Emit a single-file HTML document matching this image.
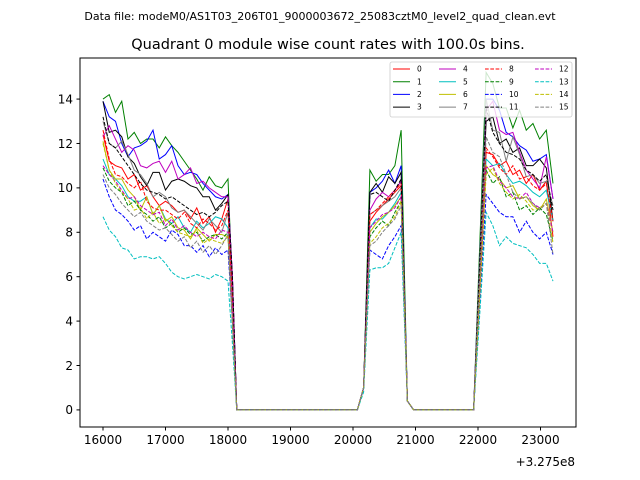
<!DOCTYPE html>
<html><head><meta charset="utf-8"><style>
body{margin:0;background:#fff;}
svg{display:block;font-family:"DejaVu Sans","Liberation Sans",sans-serif;}
</style></head><body>
<svg id="chart" width="640" height="480" viewBox="0 0 640 480">
<rect x="0" y="0" width="640" height="480" fill="#fff"/>
<text x="320" y="20" font-size="11" text-anchor="middle">Data file: modeM0/AS1T03_206T01_9000003672_25083cztM0_level2_quad_clean.evt</text>
<text x="328" y="49" font-size="14.5" text-anchor="middle">Quadrant 0 module wise count rates with 100.0s bins.</text>
<g id="series"></g>
<rect x="80" y="58" width="496" height="369" fill="none" stroke="#000" stroke-width="1"/>
<g id="axes"></g>
<text x="575" y="466" font-size="12" text-anchor="end">+3.275e8</text>
<g id="legend"></g>
</svg>
<script>
const times=[16000,16100,16200,16300,16400,16500,16600,16700,16800,16900,17000,17100,17200,17300,17400,17500,17600,17700,17800,17900,18000,18070,18140,
20070,20170,20270,20370,20470,20570,20670,20770,20870,20970,
21930,22030,22130,22237,22344,22451,22558,22665,22772,22879,22986,23093,23200];
const xTicks=[16000,17000,18000,19000,20000,21000,22000,23000];
const yTicks=[0,2,4,6,8,10,12,14];
const labels=["0","1","2","3","4","5","6","7","8","9","10","11","12","13","14","15"];
const colors=["#ff0000","#008000","#0000ff","#000000","#bf00bf","#00bfbf","#bfbf00","#808080","#ff0000","#008000","#0000ff","#000000","#bf00bf","#00bfbf","#bfbf00","#808080"];
const s0=[12.4,11.2,11.0,10.9,10.4,10.6,9.9,10.1,9.6,9.2,9.4,9.2,8.9,9.0,8.6,9.1,8.4,8.7,8.0,8.6,9.5,5.5,0, 0,1.0,8.5,8.9,9.2,9.5,9.8,10.1,0.4,0, 0,5.8,11.6,11.5,11.0,11.2,10.6,10.8,10.2,10.6,9.9,10.3,7.8];
const s1=[14.0,14.2,13.4,13.9,12.2,12.5,12.0,12.2,12.2,11.8,12.3,11.9,11.6,11.2,10.8,10.4,9.9,10.5,10.1,10.0,10.4,5.5,0, 0,1.0,10.8,10.3,10.6,10.6,11.0,12.6,0.4,0, 0,7.6,15.2,14.7,13.6,13.6,12.7,13.5,12.6,12.9,12.2,12.6,10.2];
const s2=[13.9,13.2,13.0,12.0,11.4,11.8,11.9,12.1,12.6,11.3,11.5,11.9,11.0,10.6,10.7,10.6,10.2,9.9,9.6,9.5,9.7,6.0,0, 0,1.0,9.8,10.0,10.3,10.8,10.2,11.0,0.4,0, 0,7.0,14.0,14.0,13.5,12.5,12.3,11.9,11.7,11.2,11.3,11.5,9.5];
const s3=[13.9,12.5,12.6,12.3,11.4,11.1,10.5,10.1,10.7,10.7,9.9,10.3,10.4,10.3,10.1,10.0,9.6,9.6,9.0,9.3,9.7,6.0,0, 0,1.0,9.8,10.2,9.8,10.5,10.2,10.7,0.4,0, 0,6.5,13.0,13.2,12.0,12.2,11.6,11.8,11.0,11.0,11.3,10.9,8.5];
const s4=[12.3,12.8,12.2,11.6,11.9,11.7,11.0,10.9,11.1,11.2,10.7,11.2,10.4,10.6,10.9,10.2,10.3,10.0,9.8,9.6,9.6,6.0,0, 0,1.0,9.0,9.5,9.8,9.6,9.9,10.3,0.4,0, 0,6.7,13.5,13.9,12.6,12.4,12.5,11.6,10.8,10.4,10.0,11.4,9.5];
const s5=[11.3,10.6,10.4,10.1,9.6,9.4,9.4,9.6,8.8,9.2,8.6,8.4,8.7,8.2,8.0,8.5,8.2,8.4,8.7,8.6,8.2,4.5,0, 0,1.0,8.2,8.6,8.6,8.9,9.3,9.8,0.4,0, 0,5.6,11.3,11.0,11.1,10.6,10.2,10.3,10.1,9.8,9.6,9.9,8.5];
const s6=[12.1,10.8,10.4,10.4,9.9,9.6,9.0,9.6,8.8,9.2,8.5,8.7,8.2,8.1,7.7,8.2,7.9,7.6,7.9,7.9,7.8,4.0,0, 0,1.0,8.0,8.4,8.7,8.9,9.2,9.6,0.4,0, 0,5.5,11.0,10.6,10.4,10.0,10.1,9.5,9.6,9.2,9.0,9.5,8.0];
const s7=[13.0,12.0,11.8,12.1,11.5,10.8,10.6,10.2,9.6,9.8,9.6,9.1,8.9,9.0,8.7,8.4,8.1,8.6,8.3,8.0,8.9,5.0,0, 0,1.0,8.8,9.0,9.2,9.4,9.6,10.0,0.4,0, 0,7.0,14.0,12.6,12.5,11.2,12.3,11.5,10.5,10.6,10.2,10.3,9.2];
const s8=[12.6,11.3,10.6,10.5,10.2,10.0,10.3,9.4,9.1,9.0,9.0,8.8,8.6,8.9,8.4,8.2,8.6,8.4,8.1,8.3,9.0,5.0,0, 0,1.0,8.8,9.0,9.3,9.6,9.9,10.2,0.4,0, 0,5.9,11.8,11.4,10.9,10.6,11.0,10.4,10.5,10.1,9.9,10.2,8.5];
const s9=[10.9,10.3,10.0,9.8,9.2,9.4,9.0,8.8,8.5,8.7,8.2,8.4,8.0,8.2,7.9,8.0,7.6,7.8,7.9,7.7,8.0,4.0,0, 0,1.0,7.8,8.2,8.5,8.3,8.9,9.4,0.4,0, 0,5.4,10.8,10.2,10.5,9.6,9.8,9.0,9.2,8.8,9.1,8.8,7.6];
const s10=[10.4,9.6,9.0,8.8,8.5,8.1,8.3,7.7,8.0,7.8,7.6,8.1,7.9,7.4,7.4,7.1,7.4,6.9,7.3,7.0,7.2,4.0,0, 0,1.0,7.2,7.0,6.8,7.4,7.8,8.3,0.4,0, 0,4.8,9.7,9.3,8.9,8.7,8.7,8.0,8.5,8.0,7.7,8.0,7.0];
const s11=[13.2,12.0,11.8,11.4,11.0,10.6,10.2,9.9,9.8,9.7,9.5,9.6,9.4,9.2,9.0,8.8,8.9,8.7,8.9,9.2,9.4,6.0,0, 0,1.0,9.7,9.8,9.6,9.4,9.9,10.4,0.4,0, 0,6.8,13.6,12.5,12.0,11.6,11.5,11.3,10.8,10.6,10.3,10.6,9.0];
const s12=[11.0,10.6,10.3,9.9,9.5,9.6,9.2,9.0,8.8,8.9,8.3,8.6,8.1,8.3,8.0,7.8,8.0,7.8,7.7,8.1,8.0,4.5,0, 0,1.0,8.2,8.5,8.8,8.9,9.1,9.6,0.4,0, 0,5.4,10.9,11.0,10.3,10.0,9.6,9.5,9.8,9.3,9.1,9.3,8.0];
const s13=[8.7,8.1,7.8,7.3,7.2,6.8,6.9,6.9,6.8,6.9,6.6,6.2,6.0,5.9,6.0,6.1,6.0,5.9,6.1,6.0,5.8,3.0,0, 0,0.8,6.3,6.4,6.4,6.6,7.3,8.0,0.4,0, 0,4.4,8.9,8.3,7.4,7.8,7.5,7.4,7.3,7.0,6.6,6.6,5.8];
const s14=[12.0,10.8,10.2,9.8,9.5,9.0,9.1,8.6,8.9,8.4,8.6,8.3,8.0,7.9,7.8,8.1,7.5,7.7,7.6,7.5,7.8,4.0,0, 0,1.0,7.5,7.8,8.2,8.4,8.7,9.4,0.4,0, 0,5.3,10.6,10.9,10.2,9.8,9.5,9.7,9.4,9.0,9.1,9.3,7.5];
const s15=[10.6,10.0,9.7,9.3,9.0,8.7,8.9,8.5,8.3,8.1,8.2,7.9,7.6,7.8,7.3,7.6,7.1,7.4,7.0,7.4,7.9,4.0,0, 0,1.0,7.4,7.6,8.0,8.3,8.6,9.2,0.4,0, 0,6.1,12.3,11.6,11.4,10.6,9.8,9.5,9.6,9.3,9.0,9.3,7.0];
const seriesList=[s0,s1,s2,s3,s4,s5,s6,s7,s8,s9,s10,s11,s12,s13,s14,s15];

const NS="http://www.w3.org/2000/svg";
const X0=80,X1=576,Y0=58,Y1=427;
const xMin=15632,xMax=23568,yMin=-0.77,yMax=15.85;
function xs(v){return X0+(v-xMin)/(xMax-xMin)*(X1-X0);}
function ys(v){return Y1-(v-yMin)/(yMax-yMin)*(Y1-Y0);}
function mk(tag,attrs,parent){const e=document.createElementNS(NS,tag);for(const k in attrs)e.setAttribute(k,attrs[k]);parent.appendChild(e);return e;}

const sg=document.getElementById('series');
seriesList.forEach((vals,i)=>{
  const n=Math.min(vals.length,times.length);
  const pts=vals.slice(0,n).map((v,j)=>xs(times[j]).toFixed(2)+","+ys(v).toFixed(2)).join(" ");
  const p=mk('polyline',{points:pts,fill:'none',stroke:colors[i],'stroke-width':1},sg);
  if(i>=8)p.setAttribute('stroke-dasharray','3.7,1.6');
  
  
});

const ax=document.getElementById('axes');
xTicks.forEach(t=>{
  const x=xs(t);
  const l=mk('line',{x1:x,x2:x,y1:Y1,y2:Y1+3.5,stroke:'#000'},ax);
  
  
  const tx=mk('text',{x:x,y:Y1+17,'font-size':12,'text-anchor':'middle'},ax);
  tx.textContent=t;
  
  
});
yTicks.forEach(t=>{
  const y=ys(t);
  const l=mk('line',{x1:X0-3.5,x2:X0,y1:y,y2:y,stroke:'#000'},ax);
  
  
  const tx=mk('text',{x:X0-7,y:y+4.3,'font-size':12,'text-anchor':'end'},ax);
  tx.textContent=t;
  
  
});

const lg=document.getElementById('legend');
const box=mk('rect',{x:390,y:62,width:182,height:55,rx:2,fill:'#fff','fill-opacity':0.8,stroke:'#ccc','stroke-width':0.8},lg);


labels.forEach((lab,i)=>{
  const col=Math.floor(i/4),row=i%4;
  const cx=[393,439,485,535][col];
  const cy=69+row*12.7;
  const g=mk('g',{},lg);
  
  
  const l=mk('line',{x1:cx,x2:cx+17,y1:cy,y2:cy,stroke:colors[i],'stroke-width':1},g);
  if(i>=8)l.setAttribute('stroke-dasharray','3.7,1.6');
  const t=mk('text',{x:cx+24,y:cy+2.6,'font-size':7.5},g);
  t.textContent=lab;
});
</script>
</body></html>
